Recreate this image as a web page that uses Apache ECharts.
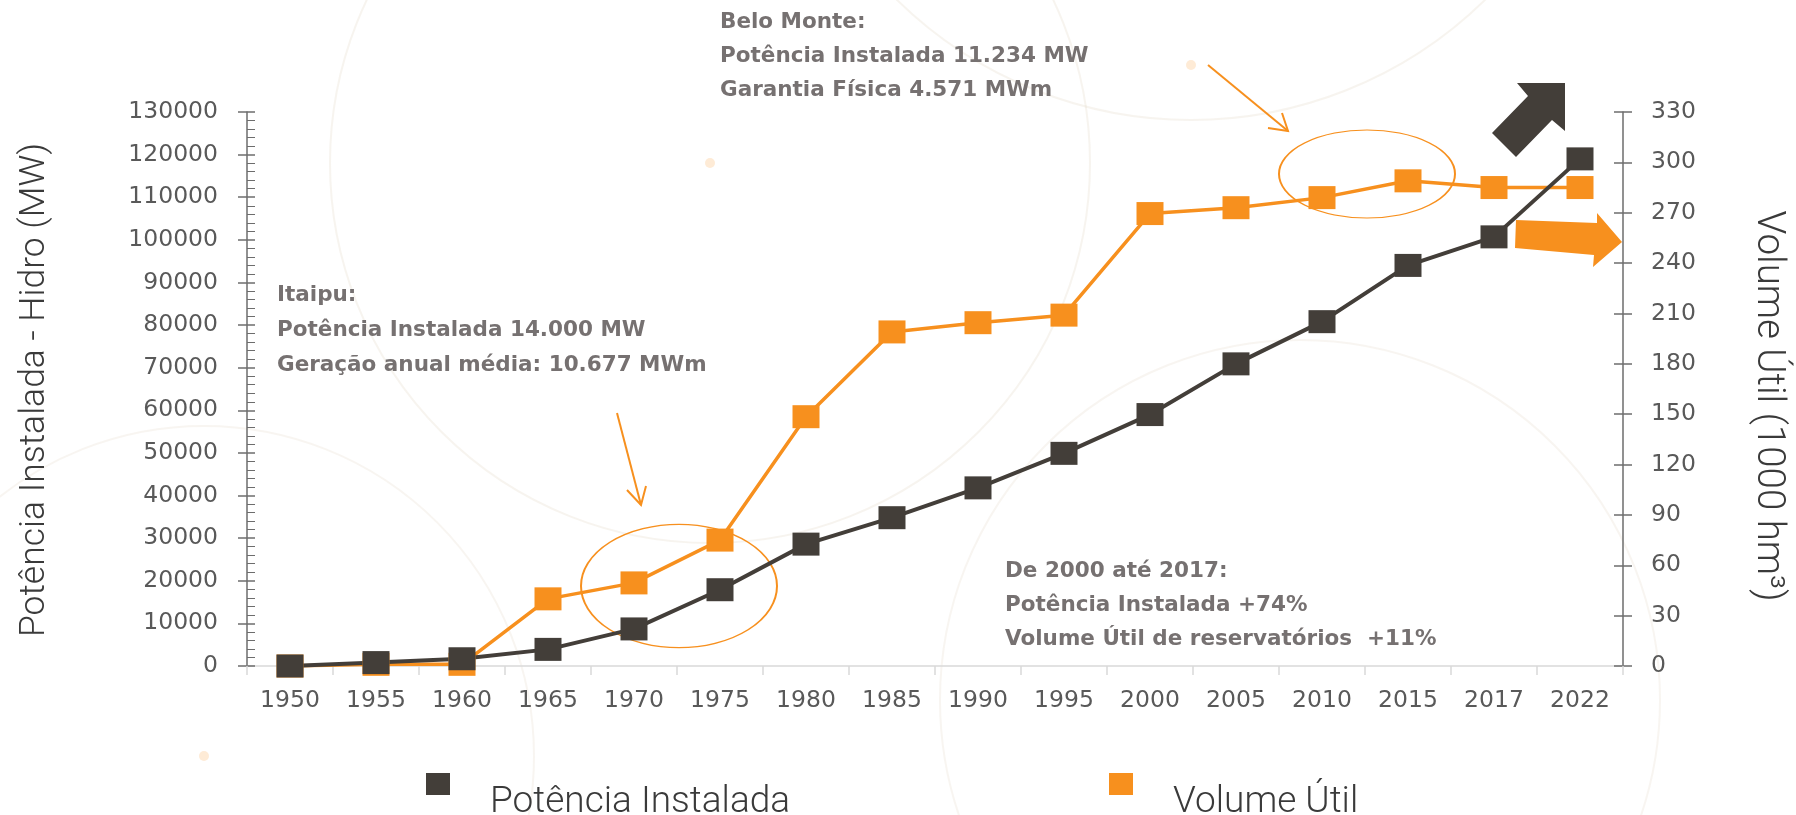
<!DOCTYPE html>
<html>
<head>
<meta charset="utf-8">
<script src="https://cdn.jsdelivr.net/npm/echarts@6/dist/echarts.min.js"></script>
<style>
  html, body { margin: 0; padding: 0; background: #fff; }
  #chart { width: 1796px; height: 815px; }
</style>
</head>
<body>
<div id="chart"></div>
<script>
// anos (eixo x)
const anos = ['1950', '1955', '1960', '1965', '1970', '1975', '1980', '1985', '1990',
  '1995', '2000', '2005', '2010', '2015', '2017', '2022'];
// Potência instalada hidro (MW) - eixo esquerdo
const potencia = [0, 800, 1700, 3900, 8700, 17900, 28600, 34800, 41800,
  49900, 59000, 70900, 80800, 94000, 100700, 119000];
// Volume útil (1000 hm3) - eixo direito
const volume = [0, 1, 1, 40, 49.5, 75, 148.5, 199, 204.5,
  209, 269.5, 273, 279, 289, 285, 285];

const corPreto = '#433e39';
const corLaranja = '#f7901e';
const corTexto = '#595959';
const corNota = '#767171';
const corTitulo = '#3a3a3a';

const chart = echarts.init(document.getElementById('chart'));

const tituloFonte = 'Roboto, "Noto Sans", sans-serif';
const numFonte = '"DejaVu Sans", Verdana, sans-serif';
const notaFonte = 'bold 21.5px "DejaVu Sans", Verdana, sans-serif';

// quadrado no topo + ponto invisível embaixo: o texto fica abaixo do marcador
const iconeLegenda = 'path://M0,0h24v22h-24z M0,59h0.01v0.01h-0.01z';
const legendaTexto = { fontFamily: tituloFonte, fontWeight: 300, fontSize: 37, color: corTitulo, padding: [0, 0, 0, 35] };

const option = {
  backgroundColor: '#ffffff',
  animation: false,
  grid: { left: 247, right: 173, top: 112, bottom: 149 },
  legend: [
    {
      data: ['Potência Instalada'],
      left: 421, top: 768,
      icon: iconeLegenda, itemWidth: 24, itemHeight: 59,
      textStyle: legendaTexto
    },
    {
      data: ['Volume Útil'],
      left: 1104, top: 768,
      icon: iconeLegenda, itemWidth: 24, itemHeight: 59,
      textStyle: legendaTexto
    }
  ],
  xAxis: {
    type: 'category',
    data: anos,
    boundaryGap: true,
    axisLine: { lineStyle: { color: '#d9d9d9', width: 1.5 } },
    axisTick: { show: true, length: 9, lineStyle: { color: '#d9d9d9', width: 1.5 } },
    axisLabel: { color: corTexto, fontSize: 23.5, fontFamily: numFonte, margin: 23 },
    splitLine: { show: false }
  },
  yAxis: [
    {
      type: 'value', position: 'left', min: 0, max: 130000, interval: 10000,
      axisLine: { show: true, lineStyle: { color: '#6d6d6d', width: 1.5 } },
      axisTick: { show: true, length: 9, lineStyle: { color: '#6d6d6d', width: 1.5 } },
      axisLabel: { color: corTexto, fontSize: 23.5, fontFamily: numFonte, margin: 29,
        formatter: v => String(v) },
      splitLine: { show: false }
    },
    {
      type: 'value', position: 'right', min: 0, max: 330, interval: 30,
      axisLine: { show: true, lineStyle: { color: '#6d6d6d', width: 1.5 } },
      axisTick: { show: true, length: 9, lineStyle: { color: '#6d6d6d', width: 1.5 } },
      axisLabel: { color: corTexto, fontSize: 23.5, fontFamily: numFonte, margin: 28 },
      splitLine: { show: false }
    },
    // eixos sobrepostos só para os ticks internos (marcas cruzando o eixo)
    {
      type: 'value', position: 'left', min: 0, max: 130000, interval: 10000,
      axisLine: { show: false },
      axisTick: { show: true, inside: true, length: 8, lineStyle: { color: '#6d6d6d', width: 1.5 } },
      minorTick: { show: true, splitNumber: 5, length: 8, lineStyle: { color: '#6d6d6d', width: 1 } },
      axisLabel: { show: false },
      splitLine: { show: false }
    },
    {
      type: 'value', position: 'right', min: 0, max: 330, interval: 30,
      axisLine: { show: false },
      axisTick: { show: true, inside: true, length: 9, lineStyle: { color: '#6d6d6d', width: 1.5 } },
      axisLabel: { show: false },
      splitLine: { show: false }
    }
  ],
  series: [
    {
      name: 'Volume Útil',
      type: 'line',
      yAxisIndex: 1,
      data: volume,
      symbol: 'rect',
      symbolSize: [27, 23],
      itemStyle: { color: corLaranja },
      lineStyle: { color: corLaranja, width: 3.5 }
    },
    {
      name: 'Potência Instalada',
      type: 'line',
      yAxisIndex: 0,
      data: potencia,
      symbol: 'rect',
      symbolSize: [27, 23],
      itemStyle: { color: corPreto },
      lineStyle: { color: corPreto, width: 4 }
    }
  ],
  graphic: [
    // fundo decorativo suave
    { type: 'circle', silent: true, z: -10, shape: { cx: 710, cy: 163, r: 380 }, style: { fill: null, stroke: 'rgba(225,210,190,0.25)', lineWidth: 2 } },
    { type: 'circle', silent: true, z: -10, shape: { cx: 1191, cy: -300, r: 420 }, style: { fill: null, stroke: 'rgba(225,210,190,0.25)', lineWidth: 2 } },
    { type: 'circle', silent: true, z: -10, shape: { cx: 204, cy: 756, r: 330 }, style: { fill: null, stroke: 'rgba(225,210,190,0.22)', lineWidth: 2 } },
    { type: 'circle', silent: true, z: -10, shape: { cx: 1300, cy: 700, r: 360 }, style: { fill: null, stroke: 'rgba(225,210,190,0.22)', lineWidth: 2 } },
    { type: 'circle', silent: true, z: -10, shape: { cx: 710, cy: 163, r: 5 }, style: { fill: 'rgba(247,144,30,0.18)' } },
    { type: 'circle', silent: true, z: -10, shape: { cx: 1191, cy: 65, r: 5 }, style: { fill: 'rgba(247,144,30,0.18)' } },
    { type: 'circle', silent: true, z: -10, shape: { cx: 204, cy: 756, r: 5 }, style: { fill: 'rgba(247,144,30,0.18)' } },

    // títulos dos eixos
    { type: 'text', x: 35, y: 390, rotation: Math.PI / 2,
      style: { text: 'Potência Instalada - Hidro (MW)', fontFamily: tituloFonte, fontWeight: 300, fontSize: 35.5, fill: corTitulo, align: 'center', verticalAlign: 'middle' } },
    { type: 'text', x: 1768, y: 406, rotation: -Math.PI / 2,
      style: { text: 'Volume Útil (1000 hm³)', fontFamily: tituloFonte, fontWeight: 300, fontSize: 38.5, fill: corTitulo, align: 'center', verticalAlign: 'middle' } },

    // notas
    { type: 'text', left: 277, top: 278, style: { text: 'Itaipu:\nPotência Instalada 14.000 MW\nGeração anual média: 10.677 MWm', font: notaFonte, fill: corNota, lineHeight: 35 } },
    { type: 'text', left: 720, top: 5, style: { text: 'Belo Monte:\nPotência Instalada 11.234 MW\nGarantia Física 4.571 MWm', font: notaFonte, fill: corNota, lineHeight: 34 } },
    { type: 'text', left: 1005, top: 554, style: { text: 'De 2000 até 2017:\nPotência Instalada +74%\nVolume Útil de reservatórios  +11%', font: notaFonte, fill: corNota, lineHeight: 34 } },

    // elipses
    { type: 'circle', shape: { cx: 0, cy: 0, r: 98 }, x: 679, y: 586, scaleY: 0.63, style: { fill: null, stroke: corLaranja, lineWidth: 2, strokeNoScale: true } },
    { type: 'circle', shape: { cx: 0, cy: 0, r: 88 }, x: 1367, y: 174, scaleY: 0.5, style: { fill: null, stroke: corLaranja, lineWidth: 2, strokeNoScale: true } },

    // setas finas
    { type: 'line', shape: { x1: 617, y1: 413, x2: 641, y2: 505 }, style: { stroke: corLaranja, lineWidth: 2 } },
    { type: 'polyline', shape: { points: [[627, 490], [641, 505], [646, 486]] }, style: { stroke: corLaranja, lineWidth: 2, fill: null } },
    { type: 'line', shape: { x1: 1208, y1: 65, x2: 1288, y2: 131 }, style: { stroke: corLaranja, lineWidth: 2 } },
    { type: 'polyline', shape: { points: [[1268, 128], [1288, 131], [1282, 113]] }, style: { stroke: corLaranja, lineWidth: 2, fill: null } },

    // setas grossas
    { type: 'polygon', shape: { points: [[1565, 83], [1565, 131], [1552, 120], [1516, 157], [1492, 133], [1528, 96], [1517, 83]] }, style: { fill: corPreto } },
    { type: 'polygon', shape: { points: [[1516, 220], [1597, 223], [1597, 213], [1622, 242], [1593, 267], [1594, 255], [1515, 248]] }, style: { fill: corLaranja } }
  ]
};

chart.setOption(option);
</script>
</body>
</html>
